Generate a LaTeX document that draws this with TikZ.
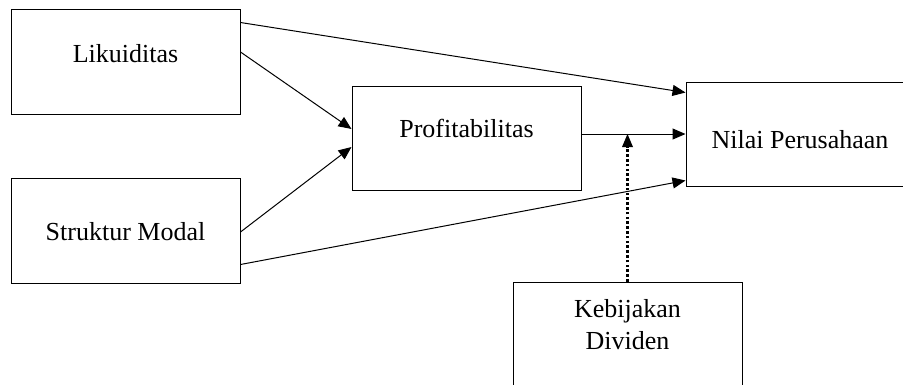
\documentclass[tikz,border=0pt]{standalone}
\usepackage{fontspec}
\setmainfont{Liberation Serif}
\usetikzlibrary{arrows.meta,calc}
\begin{document}
\begin{tikzpicture}[x=1pt,y=-1pt,
  box/.style={draw,line width=1pt,minimum width=229pt,minimum height=105pt,inner sep=0pt},
  lbl/.style={anchor=base,inner sep=0pt,font=\fontsize{26}{32}\selectfont},
  arr/.style={line width=1pt,-{Triangle[length=13pt,width=11pt]}},
  dotarr/.style={line width=2.6pt,dash pattern=on 2.6pt off 2.2pt,-{Triangle[length=13pt,width=11pt,line width=0pt]}}]
\path[use as bounding box] (0,0) rectangle (903,384);
\clip (0,0) rectangle (903,384);
\node[box] (L) at (125.5,61.5) {};
\node[box] (S) at (125.5,230.5) {};
\node[box,minimum height=104pt] (P) at (466.5,138) {};
\node[box,minimum width=228pt,minimum height=104pt] (N) at (800,134) {};
\node[box] (K) at (627.5,334.5) {};
\node[lbl] (tL) at (125.5,62) {Likuiditas};
\node[lbl] (tS) at (125.5,240) {Struktur Modal};
\node[lbl] (tP) at (466.5,137) {Profitabilitas};
\node[lbl] (tN) at (800,148) {Nilai Perusahaan};
\node[lbl] (tK1) at (627.5,317) {Kebijakan};
\node[lbl] (tK2) at (627.5,349) {Dividen};
\draw[arr] ($(L.north east)+(0,14)$) -- ($(N.north west)+(0,11)$);
\draw[arr] ($(L.east)+(0,-9.5)$) -- ($(P.west)+(0,-9)$);
\draw[arr] ($(S.east)+(0,1.5)$) -- ($(P.west)+(0,9)$);
\draw[arr] ($(S.south east)+(0,-19)$) -- ($(N.south west)+(0,-6)$);
\draw[arr] (P.east |- N.west) -- (N.west);
\draw[dotarr] (K.north) -- (K.north |- N.west);
\end{tikzpicture}
\end{document}
